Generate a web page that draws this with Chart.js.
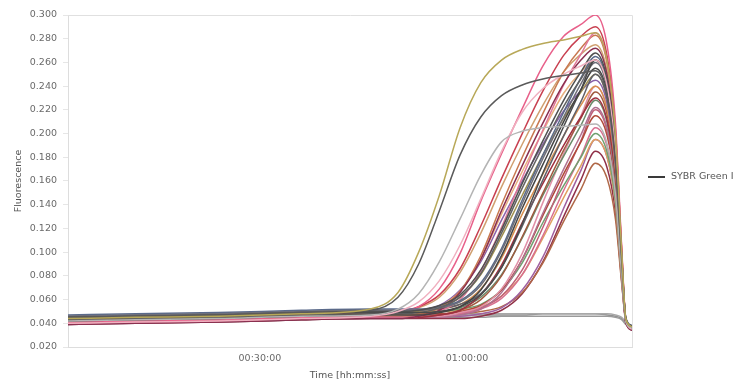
<!DOCTYPE html>
<html>
<head>
<meta charset="utf-8">
<script src="https://cdn.jsdelivr.net/npm/chart.js@4"></script>
<style>
  html, body { margin: 0; padding: 0; background: #ffffff; }
  #wrap { width: 749px; height: 382px; }
</style>
</head>
<body>
<div id="wrap"><canvas id="chart" width="749" height="382"></canvas></div>
<script>
// Sampling times of the run, in minutes
const timeMin = [2.2, 12, 24, 36, 46, 50, 53, 56, 59, 62, 65, 68, 71, 74, 76.5, 78.6, 80.3, 81.5, 82.4, 83, 83.9];

// Axis ticks
const xTickValues = [30, 60];
const xTickLabels = ['00:30:00', '01:00:00'];
const yTickValues = [0.02, 0.04, 0.06, 0.08, 0.10, 0.12, 0.14, 0.16, 0.18, 0.20, 0.22, 0.24, 0.26, 0.28, 0.30];

// Fluorescence per well (SYBR Green I channel)
const early01 = [.044,.045,.046,.048,.052, .066,.100,.148,.205,.243,.262,.271,.276,.279,.282,.285, .261,.199,.101,.044,.037];
const early02 = [.045,.046,.047,.049,.051, .062,.090,.135,.182,.214,.232,.241,.246,.249,.251,.253, .232,.178,.093,.044,.037];
const early03 = [.042,.043,.044,.046,.047, .052,.065,.092,.128,.165,.193,.202,.205,.206,.207,.208, .191,.149,.082,.042,.036];
const early04 = [.040,.041,.042,.044,.046, .050,.058,.076,.106,.145,.185,.218,.238,.250,.257,.262, .240,.184,.096,.042,.035];

const amp01 = [.041,.042,.043,.045,.046, .049,.054,.069,.099,.143,.183,.221,.257,.282,.292,.300, .274,.209,.105,.044,.037];
const amp02 = [.044,.045,.046,.048,.049, .050,.054,.064,.086,.122,.162,.200,.236,.266,.282,.290, .265,.203,.103,.042,.035];
const amp03 = [.040,.041,.042,.044,.045, .045,.048,.053,.067,.097,.140,.180,.217,.252,.272,.283, .259,.198,.101,.043,.036];
const amp04 = [.045,.046,.047,.049,.050, .050,.051,.055,.064,.085,.119,.158,.194,.228,.252,.268, .245,.188,.097,.042,.038];
const amp05 = [.043,.044,.045,.047,.048, .048,.049,.053,.062,.082,.116,.154,.189,.223,.246,.262, .240,.184,.096,.043,.036];
const amp06 = [.046,.047,.048,.050,.051, .051,.051,.053,.058,.072,.101,.141,.179,.214,.242,.260, .238,.183,.095,.044,.037];
const amp07 = [.042,.043,.044,.046,.047, .047,.047,.049,.054,.068,.097,.137,.174,.210,.237,.255, .234,.180,.094,.042,.035];
const amp08 = [.039,.040,.041,.043,.044, .044,.046,.051,.066,.094,.135,.173,.209,.242,.262,.272, .249,.191,.098,.041,.034];
const amp09 = [.043,.044,.045,.047,.048, .049,.053,.062,.083,.116,.155,.191,.224,.252,.267,.275, .252,.193,.099,.043,.036];
const amp10 = [.044,.045,.046,.048,.049, .049,.051,.055,.068,.092,.127,.160,.191,.219,.236,.245, .225,.173,.091,.042,.036];
const amp11 = [.040,.041,.042,.044,.045, .045,.046,.050,.060,.084,.121,.163,.203,.241,.267,.285, .261,.199,.101,.043,.037];
const amp12 = [.045,.046,.047,.049,.050, .050,.050,.052,.056,.069,.095,.132,.166,.198,.224,.240, .220,.170,.090,.043,.036];
const amp13 = [.041,.042,.043,.045,.046, .046,.046,.047,.051,.060,.080,.113,.150,.186,.213,.235, .216,.167,.089,.042,.035];
const amp14 = [.044,.045,.046,.048,.049, .049,.049,.050,.053,.062,.081,.112,.148,.181,.207,.228, .209,.162,.087,.043,.037];
const amp15 = [.040,.041,.042,.044,.045, .045,.045,.045,.047,.052,.066,.094,.133,.170,.199,.222, .204,.158,.086,.042,.035];
const amp16 = [.043,.044,.045,.047,.048, .048,.048,.048,.050,.055,.068,.094,.131,.166,.193,.215, .198,.154,.084,.043,.036];
const amp17 = [.042,.043,.044,.046,.047, .047,.047,.047,.048,.052,.061,.081,.114,.152,.181,.205, .189,.147,.081,.042,.035];
const amp18 = [.045,.046,.047,.049,.050, .050,.050,.050,.051,.054,.063,.081,.112,.146,.173,.195, .180,.141,.079,.043,.037];
const amp19 = [.039,.040,.041,.043,.044, .044,.044,.044,.044,.046,.051,.065,.092,.130,.161,.185, .171,.134,.076,.041,.034];
const amp20 = [.043,.044,.045,.047,.048, .048,.048,.048,.048,.050,.054,.066,.091,.126,.153,.175, .162,.128,.074,.043,.036];
const amp21 = [.046,.047,.048,.050,.051, .051,.051,.052,.056,.065,.087,.122,.161,.198,.227,.250, .229,.177,.093,.044,.037];
const amp22 = [.040,.041,.042,.044,.045, .045,.045,.047,.051,.064,.089,.125,.158,.190,.214,.230, .211,.164,.088,.041,.035];
const amp23 = [.044,.045,.046,.048,.049, .049,.050,.053,.062,.081,.113,.148,.182,.213,.235,.250, .229,.177,.093,.043,.036];
const amp24 = [.047,.048,.049,.051,.052, .052,.052,.054,.059,.074,.103,.144,.182,.218,.247,.265, .243,.186,.096,.045,.038];
const amp25 = [.041,.042,.043,.045,.046, .046,.046,.046,.049,.054,.069,.099,.142,.183,.215,.240, .220,.170,.090,.042,.035];
const amp26 = [.043,.044,.045,.047,.048, .048,.048,.048,.049,.053,.063,.085,.121,.162,.194,.220, .202,.157,.085,.042,.035];
const amp27 = [.042,.043,.044,.046,.047, .047,.049,.054,.067,.094,.132,.168,.202,.234,.252,.262, .240,.184,.096,.043,.036];
const amp28 = [.044,.045,.046,.048,.049, .049,.049,.050,.054,.064,.087,.124,.167,.206,.237,.262, .240,.184,.096,.043,.037];
const amp29 = [.045,.046,.047,.049,.050, .050,.050,.050,.052,.056,.068,.091,.125,.156,.180,.200, .184,.144,.080,.044,.037];
const amp30 = [.041,.042,.043,.045,.046, .046,.046,.046,.046,.048,.053,.068,.096,.137,.169,.195, .180,.141,.079,.042,.035];

const neg01 = [.041,.042,.043,.045,.046, .046,.046,.047,.047,.047,.047,.047,.048,.048,.048,.048, .047,.046,.044,.040,.036];
const neg02 = [.043,.044,.045,.046,.047, .047,.047,.047,.048,.048,.048,.048,.048,.048,.048,.048, .048,.047,.045,.041,.037];
const neg03 = [.039,.040,.041,.043,.044, .044,.045,.045,.045,.045,.046,.046,.046,.046,.046,.046, .046,.045,.043,.039,.034];

// Wells in drawing order with their trace colours
const wells = [
  [neg01, '#909090'], [neg02, '#a8a8a8'], [neg03, '#9a9a9a'],
  [amp19, '#903048'], [amp20, '#b06848'], [amp30, '#a060a0'], [amp18, '#e0a060'],
  [amp17, '#d87090'], [amp29, '#70a070'], [amp26, '#c06078'], [amp16, '#b04a3a'],
  [amp15, '#b07090'], [amp25, '#e090a8'], [amp14, '#6a8a6a'], [amp13, '#a05a40'],
  [amp22, '#a03040'], [amp12, '#d89050'], [amp10, '#8a60a8'], [amp23, '#a09050'],
  [amp21, '#606068'], [amp27, '#e8b080'], [amp09, '#d0a070'], [amp03, '#c87850'],
  [amp11, '#e07898'], [amp08, '#8a3050'], [amp02, '#c84050'], [amp01, '#e8608a'],
  [amp24, '#5a6a8a'], [amp06, '#6e6e78'], [amp05, '#626262'], [amp28, '#4a4a4a'],
  [amp07, '#454545'], [amp04, '#505050'],
  [early04, '#f0b0c0'], [early03, '#b4b4b4'], [early02, '#5a5a5a'], [early01, '#b8a858']
];

const axisFont = { family: 'DejaVu Sans', size: 9.5 };
const axisColor = '#6a6a6a';

const datasets = wells.map(([values, color], i) => ({
  label: 'SYBR Green I',
  data: values.map((v, k) => ({ x: timeMin[k], y: v })),
  borderColor: color,
  borderWidth: 1.5,
  pointRadius: 0,
  fill: false,
  cubicInterpolationMode: 'monotone',
  order: wells.length - i
}));

// Light frame along the top and right of the plot, plus the channel legend
const framePlugin = {
  id: 'frame',
  beforeDatasetsDraw(chart) {
    const { ctx, chartArea: a } = chart;
    ctx.save();
    ctx.strokeStyle = '#e0e0e0';
    ctx.lineWidth = 1;
    ctx.beginPath();
    ctx.moveTo(a.left, a.top + 0.5);
    ctx.lineTo(a.right + 0.5, a.top + 0.5);
    ctx.lineTo(a.right + 0.5, a.bottom);
    ctx.stroke();
    ctx.restore();
  },
  afterDraw(chart) {
    const { ctx, chartArea: a } = chart;
    const y = 177;
    const x0 = a.right + 16;
    ctx.save();
    ctx.strokeStyle = '#3a3a3a';
    ctx.lineWidth = 2;
    ctx.beginPath();
    ctx.moveTo(x0, y);
    ctx.lineTo(x0 + 17, y);
    ctx.stroke();
    ctx.fillStyle = '#555555';
    ctx.font = '9.5px "DejaVu Sans"';
    ctx.textBaseline = 'middle';
    ctx.textAlign = 'left';
    ctx.fillText('SYBR Green I', x0 + 23, y);
    ctx.restore();
  }
};

new Chart(document.getElementById('chart'), {
  type: 'line',
  data: { datasets },
  plugins: [framePlugin],
  options: {
    responsive: false,
    animation: false,
    layout: { padding: { left: 0, right: 117, top: 15, bottom: 0 } },
    plugins: { legend: { display: false }, tooltip: { enabled: false } },
    scales: {
      x: {
        type: 'linear',
        min: 2.2,
        max: 83.9,
        afterFit(scale) { scale.height = 35; },
        afterBuildTicks(scale) { scale.ticks = xTickValues.map(v => ({ value: v })); },
        ticks: {
          callback: v => xTickLabels[xTickValues.indexOf(v)],
          font: axisFont, color: axisColor, padding: 5.5,
          maxRotation: 0, autoSkip: false
        },
        grid: { display: false, drawTicks: false },
        border: { display: true, color: '#dddddd' },
        title: {
          display: true, text: 'Time [hh:mm:ss]',
          font: axisFont, color: '#555555',
          padding: { top: 0, bottom: 0.5 }
        }
      },
      y: {
        min: 0.02,
        max: 0.30,
        afterFit(scale) { scale.width = 68; },
        afterBuildTicks(scale) { scale.ticks = yTickValues.map(v => ({ value: v })); },
        ticks: {
          callback: v => v.toFixed(3),
          font: axisFont, color: axisColor, padding: 6
        },
        grid: { drawOnChartArea: false, drawTicks: true, tickLength: 5, color: '#e6e6e6' },
        border: { display: true, color: '#dddddd' },
        title: {
          display: true, text: 'Fluorescence',
          font: axisFont, color: '#555555',
          padding: { top: 12.5, bottom: 0 }
        }
      }
    }
  }
});
</script>
</body>
</html>
